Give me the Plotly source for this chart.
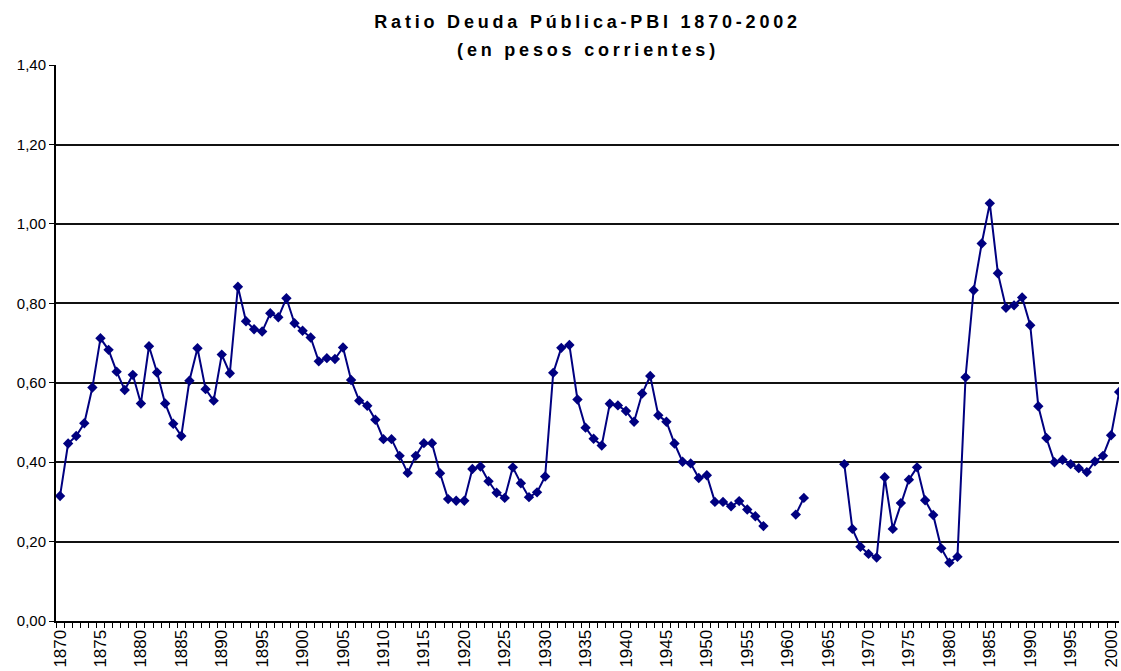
import plotly.graph_objects as go

years = list(range(1870, 2002))
ratio = [
    0.315, 0.447, 0.466, 0.498, 0.588, 0.712, 0.683, 0.628, 0.582, 0.620,   # 1870-1879
    0.548, 0.692, 0.626, 0.548, 0.497, 0.466, 0.605, 0.687, 0.584, 0.555,   # 1880-1889
    0.671, 0.624, 0.842, 0.755, 0.735, 0.729, 0.775, 0.765, 0.813, 0.750,   # 1890-1899
    0.731, 0.714, 0.654, 0.662, 0.660, 0.689, 0.607, 0.555, 0.542, 0.507,   # 1900-1909
    0.458, 0.458, 0.416, 0.373, 0.416, 0.448, 0.448, 0.372, 0.307, 0.303,   # 1910-1919
    0.303, 0.383, 0.389, 0.352, 0.323, 0.310, 0.387, 0.347, 0.312, 0.324,   # 1920-1929
    0.364, 0.625, 0.688, 0.695, 0.558, 0.487, 0.459, 0.442, 0.547, 0.543,   # 1930-1939
    0.529, 0.502, 0.573, 0.617, 0.518, 0.502, 0.447, 0.401, 0.397, 0.360,   # 1940-1949
    0.367, 0.300, 0.300, 0.289, 0.302, 0.281, 0.264, 0.239, None, None,     # 1950-1959
    None, 0.268, 0.310, None, None, None, None, 0.395, 0.232, 0.187,        # 1960-1969
    0.169, 0.160, 0.362, 0.232, 0.297, 0.356, 0.387, 0.304, 0.267, 0.183,   # 1970-1979
    0.147, 0.162, 0.614, 0.833, 0.951, 1.052, 0.876, 0.789, 0.795, 0.815,   # 1980-1989
    0.745, 0.541, 0.461, 0.400, 0.406, 0.395, 0.385, 0.375, 0.402, 0.416,   # 1990-1999
    0.468, 0.577,                                                           # 2000-2001
]
assert len(ratio) == len(years)

label_years = list(range(1870, 2001, 5))
label_text = [str(y) for y in label_years]
y_ticks = [0, 0.2, 0.4, 0.6, 0.8, 1.0, 1.2, 1.4]
title_lines = ["Ratio Deuda Pública-PBI 1870-2002", "(en pesos corrientes)"]

FONT = "Liberation Sans, Arial, sans-serif"
NAVY = "#000080"
H_PLOT = 671 - 65 - 50

fig = go.Figure()
fig.add_trace(go.Scatter(
    x=years, y=ratio, mode="lines+markers",
    line=dict(color=NAVY, width=2),
    marker=dict(symbol="diamond", size=8, color=NAVY),
    connectgaps=False, showlegend=False,
))

fig.update_layout(
    width=1121, height=671,
    margin=dict(l=56, r=0, t=65, b=50),
    paper_bgcolor="white", plot_bgcolor="white",
    separators=",.",
    font=dict(family=FONT, color="black"),
    annotations=[
        dict(text="<b>%s</b>" % title_lines[0], xref="paper", yref="paper",
             x=0.5, y=1 + (65 - 22) / H_PLOT, xanchor="center", yanchor="middle",
             showarrow=False, font=dict(family=FONT, size=18, color="black")),
        dict(text="<b>%s</b>" % title_lines[1], xref="paper", yref="paper",
             x=0.5, y=1 + (65 - 50) / H_PLOT, xanchor="center", yanchor="middle",
             showarrow=False, font=dict(family=FONT, size=18, color="black")),
    ],
)

fig.update_xaxes(
    range=[1869.5, 2000.98],
    tickmode="array", tickvals=label_years, ticktext=label_text,
    tickangle=-90, tickfont=dict(family=FONT, size=17, color="black"),
    ticklabeloverflow="allow",
    ticks="", showgrid=False, zeroline=False,
    showline=True, linecolor="black", linewidth=2,
    minor=dict(tick0=1869.5, dtick=1, ticks="outside", ticklen=5,
               tickcolor="black", tickwidth=1, showgrid=False),
)
fig.update_yaxes(
    range=[0, 1.4004],
    tickmode="array", tickvals=y_ticks, tickformat=".2f",
    tickfont=dict(family=FONT, size=15, color="black"),
    ticks="outside", ticklen=5, tickcolor="black", tickwidth=1,
    showgrid=True, gridcolor="#111111", gridwidth=2,
    zeroline=False,
    showline=True, linecolor="black", linewidth=2,
)

post = (
    "document.body.style.margin='0';"
    "document.querySelectorAll('g.annotation text.annotation-text').forEach(function(e){"
    "e.style.letterSpacing='3.8px';});"
)
fig.write_html("out.html", post_script=post, config={"displayModeBar": False})
